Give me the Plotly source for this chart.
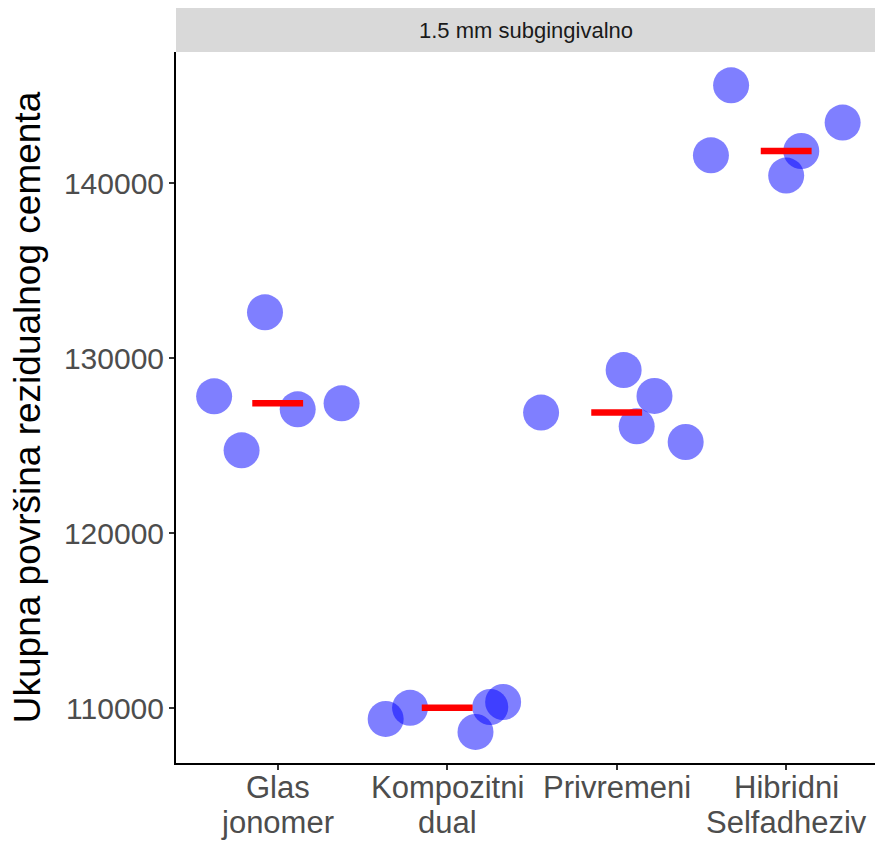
import plotly.graph_objects as go
import numpy as np

categories = ["Glas\njonomer", "Kompozitni\ndual", "Privremeni", "Hibridni\nSelfadheziv"]
glas_jonomer = [127829, 124743, 132629, 127086, 127429]
kompozitni_dual = [109389, 110030, 108646, 110074, 110360]
privremeni = [126897, 129331, 127846, 126114, 125217]
hibridni_selfadheziv = [145600, 141600, 141846, 140440, 143469]
# horizontal jitter offsets (in category units)
jitter_glas = [-0.375, -0.213, -0.075, 0.118, 0.377]
jitter_komp = [-0.363, -0.219, 0.167, 0.254, 0.330]
jitter_priv = [-0.446, 0.041, 0.223, 0.118, 0.407]
jitter_hib = [-0.325, -0.444, 0.089, 0.0, 0.333]
y_ticks = [110000, 120000, 130000, 140000]
facet_label = "1.5 mm subgingivalno"
y_title = "Ukupna površina rezidualnog cementa"

groups = [glas_jonomer, kompozitni_dual, privremeni, hibridni_selfadheziv]
jitters = [jitter_glas, jitter_komp, jitter_priv, jitter_hib]

fig = go.Figure()
for i, (vals, jit) in enumerate(zip(groups, jitters)):
    pos = i + 1
    fig.add_trace(go.Scatter(
        x=[pos + j for j in jit], y=vals, mode="markers",
        marker=dict(size=36, color="blue", opacity=0.5, line=dict(width=0)),
        showlegend=False, hoverinfo="y"))
for i, vals in enumerate(groups):
    pos = i + 1
    med = float(np.median(vals))
    fig.add_trace(go.Scatter(
        x=[pos - 0.15, pos + 0.15], y=[med, med], mode="lines",
        line=dict(color="red", width=6.5), showlegend=False, hoverinfo="skip"))

font_family = "Liberation Sans, Arial, sans-serif"
plot_h = 842 - 52 - 79

annotations = [dict(text=facet_label, xref="paper", yref="paper", x=0.5,
                    y=1 + 22 / plot_h, showarrow=False, xanchor="center", yanchor="middle",
                    font=dict(size=22, color="#1A1A1A", family=font_family))]
for i, lab in enumerate(categories):
    for k, line in enumerate(lab.split("\n")):
        annotations.append(dict(
            text=line, xref="x", yref="paper", x=i + 1,
            y=-(24 + 35 * k) / plot_h, showarrow=False,
            xanchor="center", yanchor="middle",
            font=dict(size=31, color="#4D4D4D", family=font_family)))

fig.update_layout(
    width=875, height=842,
    margin=dict(l=176, r=0, t=52, b=79),
    paper_bgcolor="white", plot_bgcolor="white",
    font=dict(family=font_family),
    xaxis=dict(range=[0.4, 4.524], tickmode="array", tickvals=[1, 2, 3, 4],
               ticktext=["", "", "", ""], showgrid=False, zeroline=False,
               showline=True, linecolor="black", linewidth=2,
               ticks="outside", ticklen=5, tickwidth=1.5, tickcolor="#333333"),
    yaxis=dict(range=[106874, 147503], tickmode="array", tickvals=y_ticks,
               ticktext=[str(v) for v in y_ticks], showgrid=False, zeroline=False,
               showline=True, linecolor="black", linewidth=2,
               ticks="outside", ticklen=5, tickwidth=1.5, tickcolor="#333333",
               ticklabelstandoff=-1,
               tickfont=dict(size=30, color="#4D4D4D", family=font_family),
               title=dict(text=y_title, standoff=12,
                          font=dict(size=37, color="black", family=font_family))),
    shapes=[dict(type="rect", xref="paper", yref="paper", x0=0, x1=1,
                 y0=1, y1=1 + 44 / plot_h, fillcolor="#D9D9D9",
                 line=dict(width=0), layer="below")],
    annotations=annotations,
)

fig.write_html("out.html", config={"displayModeBar": False},
               post_script="document.body.style.margin='0px';")
